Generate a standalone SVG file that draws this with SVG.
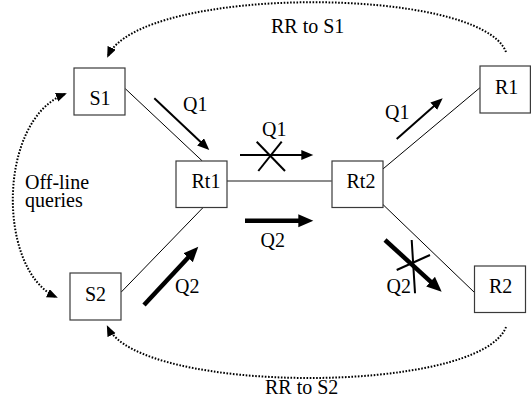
<svg xmlns="http://www.w3.org/2000/svg" width="531" height="411" viewBox="0 0 531 411">
<defs>
<style>
.box{fill:#fff;stroke:#3a3a3a;stroke-width:1.2}
text{font-family:'Liberation Serif','Times New Roman','DejaVu Serif',serif;font-size:20px;fill:#000}
.link{stroke:#000;stroke-width:1;fill:none}
.q1{stroke:#000;stroke-width:2;fill:none;marker-end:url(#h1)}
.q2{stroke:#000;stroke-width:4.5;fill:none;marker-end:url(#h2)}
.x{stroke:#000;stroke-width:2}
.dot{stroke:#000;stroke-width:2;fill:none;stroke-dasharray:1.6 1.6}
</style>
<marker id="h1" markerUnits="userSpaceOnUse" markerWidth="14" markerHeight="12" refX="2" refY="5" orient="auto"><path d="M0,0 L12,5 L0,10 z" fill="#000"/></marker>
<marker id="h2" markerUnits="userSpaceOnUse" markerWidth="16" markerHeight="14" refX="3" refY="6.5" orient="auto"><path d="M0,0 L15,6.5 L0,13 z" fill="#000"/></marker>
<marker id="hd" markerUnits="userSpaceOnUse" markerWidth="12" markerHeight="10" refX="9" refY="4.5" orient="auto-start-reverse"><path d="M0,0 L11,4.5 L0,9 z" fill="#000"/></marker>
</defs>
<rect width="531" height="411" fill="#fff"/>
<g id="connectors">
<line class="link" x1="125.3" y1="88.7" x2="202.3" y2="161"/>
<line class="link" x1="121" y1="292.3" x2="203.3" y2="207.3"/>
<line x1="226.7" y1="181" x2="331.7" y2="181" stroke="#666" stroke-width="1.6"/>
<line class="link" x1="381.7" y1="170" x2="480" y2="87.7"/>
<line class="link" x1="380" y1="201.7" x2="474.3" y2="292.3"/>
<line class="q1" x1="154.3" y1="98.3" x2="202" y2="143.2"/>
<line class="q1" x1="240" y1="155" x2="303.3" y2="155"/>
<line class="x" x1="256.7" y1="141.7" x2="285" y2="171"/>
<line class="x" x1="281.7" y1="141.7" x2="258.3" y2="171"/>
<line class="q1" x1="396.7" y1="139" x2="435.2" y2="104.9"/>
<line class="q2" x1="245" y1="220.7" x2="301.3" y2="220.7"/>
<line class="q2" x1="144" y1="305" x2="190.1" y2="255.5"/>
<line class="q2" x1="385" y1="240" x2="432.8" y2="283.6"/>
<line class="x" x1="396.7" y1="270" x2="430" y2="255"/>
<line class="x" x1="411.7" y1="240" x2="415" y2="293.3"/>
<path class="dot" d="M506,52 C480,-15 140,-15 108,56" marker-end="url(#hd)"/>
<path class="dot" d="M506,327 C480,395 140,395 107.7,327" marker-end="url(#hd)"/>
<path class="dot" d="M65,94 C-3,120 -3,270 56,297" marker-start="url(#hd)" marker-end="url(#hd)"/>
<text x="183" y="111">Q1</text>
<text x="262" y="136">Q1</text>
<text x="385" y="119">Q1</text>
<text x="260.5" y="246.5">Q2</text>
<text x="175" y="293">Q2</text>
<text x="386.5" y="293">Q2</text>
<text x="271" y="33">RR to S1</text>
<text x="265" y="394">RR to S2</text>
<text x="25" y="189">Off-line</text>
<text x="25" y="207">queries</text>
</g>
<g id="S1"><rect class="box" x="74" y="68" width="51" height="47"/><text x="89.5" y="105">S1</text></g>
<g id="Rt1"><rect class="box" x="176" y="161" width="51" height="46.5"/><text x="191.5" y="188">Rt1</text></g>
<g id="Rt2"><rect class="box" x="332" y="161" width="51" height="46.5"/><text x="346.5" y="188">Rt2</text></g>
<g id="R1"><rect class="box" x="480" y="66" width="50.4" height="47"/><text x="495" y="93.5">R1</text></g>
<g id="S2"><rect class="box" x="70" y="273" width="51" height="47"/><text x="85" y="301">S2</text></g>
<g id="R2"><rect class="box" x="474.5" y="266" width="51" height="46.5"/><text x="489" y="292.5">R2</text></g>
</svg>
